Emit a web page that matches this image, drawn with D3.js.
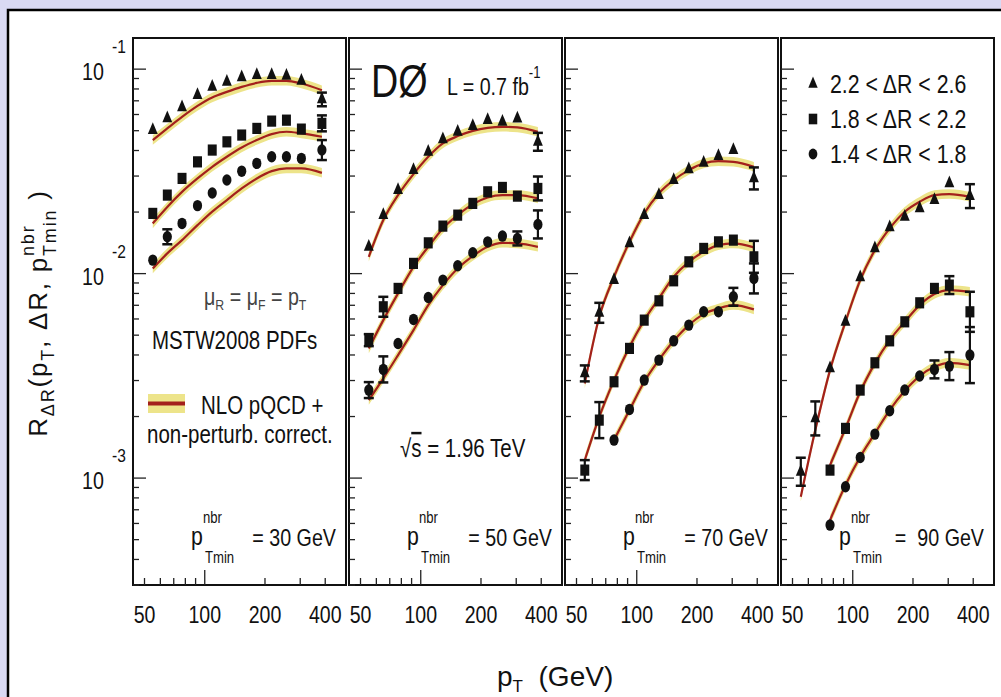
<!DOCTYPE html>
<html>
<head>
<meta charset="utf-8">
<script src="https://cdn.jsdelivr.net/npm/d3@7"></script>
<style>
  body { margin: 0; background: #d9d9f3; overflow: hidden; }
  text { font-family: "Liberation Sans", Arial, Helvetica, sans-serif; fill: #111; }
</style>
</head>
<body>
<script>
// bin centres (GeV) shared by all panels
var pT = [55, 65, 77, 92, 109, 129, 153, 182, 216, 256, 304, 385];
var ptMinLabels = ["30", "50", "70", "90"];
var xTickLabels = [50, 100, 200, 400];
var legendLabels = ["2.2 < \u0394R < 2.6", "1.8 < \u0394R < 2.2", "1.4 < \u0394R < 1.8"];

// one row per panel (pTmin = 30, 50, 70, 90 GeV)
var triData = [
  [0.0503, 0.0574, 0.0650, 0.0746, 0.0819, 0.0867, 0.0911, 0.0935, 0.0935, 0.0927, 0.0877, 0.0711],
  [0.01352, 0.01932, 0.02561, 0.03208, 0.0394, 0.04531, 0.04935, 0.05264, 0.0563, 0.05524, 0.05738, 0.04411],
  [0.003251, 0.006431, 0.009294, 0.01405, 0.01932, 0.02421, 0.02866, 0.03233, 0.03482, 0.03755, 0.04017, 0.02921],
  [0.001074, 0.001958, 0.003439, 0.005811, 0.009581, 0.01328, 0.01682, 0.01896, 0.02084, 0.02288, 0.02761, 0.02393]
];
var triTheory = [
  [0.0450, 0.0513, 0.0584, 0.0661, 0.0727, 0.0774, 0.0819, 0.0857, 0.0877, 0.0877, 0.0851, 0.0789],
  [0.01208, 0.01827, 0.02421, 0.03066, 0.03725, 0.04332, 0.04704, 0.04991, 0.05164, 0.05221, 0.05186, 0.04935],
  [0.002904, 0.006148, 0.009647, 0.0143, 0.0197, 0.02467, 0.02866, 0.03208, 0.03459, 0.03549, 0.03521, 0.0333],
  [0.00081, 0.001717, 0.003374, 0.005811, 0.009294, 0.01303, 0.01663, 0.02006, 0.02245, 0.02421, 0.02448, 0.02374]
];
var triErr = [
  [0, 0, 0, 0, 0, 0, 0, 0, 0, 0, 0, 0.08],
  [0, 0, 0, 0, 0, 0, 0, 0, 0, 0, 0, 0.106],
  [0.094, 0.119, 0, 0, 0, 0, 0, 0, 0, 0, 0, 0.132],
  [0.171, 0.211, 0, 0, 0, 0, 0, 0, 0, 0, 0, 0.144]
];

var sqData = [
  [0.0197, 0.02421, 0.02921, 0.0352, 0.0402, 0.0441, 0.0476, 0.0513, 0.0557, 0.0563, 0.0509, 0.0543],
  [0.004728, 0.006882, 0.008465, 0.01122, 0.01414, 0.01707, 0.01932, 0.02205, 0.02512, 0.02639, 0.02393, 0.02609],
  [0.001094, 0.001921, 0.002958, 0.004308, 0.005923, 0.007362, 0.009222, 0.01142, 0.01328, 0.0143, 0.01458, 0.01208],
  [null, null, 0.001094, 0.00175, 0.002694, 0.003663, 0.004691, 0.005811, 0.007198, 0.008465, 0.008786, 0.006504]
];
var sqTheory = [
  [0.0176, 0.0212, 0.0251, 0.0292, 0.0333, 0.0373, 0.0414, 0.045, 0.0481, 0.0494, 0.0485, 0.0467],
  [0.004308, 0.005923, 0.008002, 0.0108, 0.01352, 0.01663, 0.01932, 0.02187, 0.02358, 0.02421, 0.02421, 0.02332],
  [0.001225, 0.001994, 0.003015, 0.004387, 0.005923, 0.007563, 0.009647, 0.01142, 0.01278, 0.01378, 0.01405, 0.01343],
  [null, null, 0.001158, 0.00175, 0.002642, 0.003638, 0.004728, 0.005811, 0.007015, 0.00794, 0.008305, 0.008147]
];
var sqErr = [
  [0, 0, 0, 0, 0, 0, 0, 0, 0, 0, 0, 0.094],
  [0.07, 0.119, 0, 0, 0, 0, 0, 0, 0, 0, 0, 0.144],
  [0.119, 0.225, 0, 0, 0, 0, 0, 0, 0, 0, 0, 0.197],
  [0, 0, 0, 0, 0, 0, 0, 0, 0, 0, 0.106, 0.253]
];

var circData = [
  [0.01164, 0.01514, 0.0176, 0.0215, 0.0248, 0.0287, 0.0317, 0.0346, 0.0373, 0.0373, 0.0366, 0.0402],
  [0.002694, 0.0034, 0.004556, 0.00597, 0.007648, 0.009294, 0.01092, 0.01264, 0.0143, 0.01526, 0.01486, 0.0174],
  [null, null, 0.001534, 0.002167, 0.003015, 0.003776, 0.004691, 0.0056, 0.006504, 0.006504, 0.007701, 0.009473],
  [null, null, 0.000589, 0.000907, 0.001262, 0.001641, 0.002133, 0.002694, 0.003155, 0.0034, 0.003529, 0.003995]
];
var circTheory = [
  [0.0106, 0.01256, 0.01458, 0.01726, 0.0201, 0.0229, 0.0261, 0.0292, 0.0317, 0.0327, 0.0327, 0.0311],
  [0.002407, 0.003074, 0.003995, 0.005294, 0.007015, 0.008786, 0.0106, 0.01218, 0.01352, 0.01414, 0.01405, 0.01352],
  [null, null, 0.001534, 0.00215, 0.002958, 0.003776, 0.004691, 0.0056, 0.006339, 0.006758, 0.007015, 0.006683],
  [null, null, 0.000623, 0.000924, 0.001271, 0.001654, 0.00215, 0.002673, 0.003155, 0.003501, 0.003663, 0.00357]
];
var circErr = [
  [0, 0.088, 0, 0, 0, 0, 0, 0, 0, 0, 0, 0.119],
  [0.094, 0.158, 0, 0, 0, 0, 0, 0, 0, 0, 0.082, 0.171],
  [0, 0, 0, 0, 0, 0, 0, 0, 0, 0, 0.106, 0.184],
  [0, 0, 0, 0, 0, 0, 0, 0, 0, 0.106, 0.171, 0.371]
];

var bandFrac = 0.055;

var width = 1001,
    height = 697,
    panelLefts = [133, 349, 565, 781],
    panelW = 213,
    panelTop = 38,
    panelBottom = 585,
    narrow = 0.82,
    bandColor = "#ede48a",
    lineColor = "#a3201c";

var svg = d3.select("body").append("svg")
            .attr("width", width)
            .attr("height", height);

// condensed text: the original uses a narrow Helvetica
function label(parent, x, y, size, anchor, sx) {
  return parent.append("text")
    .attr("transform", "translate(" + x + "," + y + ")scale(" + (sx || narrow) + ",1)")
    .attr("font-size", size)
    .attr("text-anchor", anchor || "start");
}

// white canvas with black frame over the lavender page
svg.append("rect")
   .attr("x", 8).attr("y", 10)
   .attr("width", width).attr("height", height)
   .attr("fill", "#fff")
   .attr("stroke", "#000")
   .attr("stroke-width", 2.5);

var x = d3.scaleLog().domain([43.8, 508]).range([0, panelW]);
var y = d3.scaleLog().domain([3.0e-4, 0.142]).range([panelBottom, panelTop]);

var series = [
  { data: triData,  theory: triTheory,  err: triErr,  type: d3.symbolTriangle, size: 66, sx: 0.8, sy: 1.1 },
  { data: sqData,   theory: sqTheory,   err: sqErr,   type: d3.symbolSquare,   size: 95, sx: 0.92, sy: 1.15 },
  { data: circData, theory: circTheory, err: circErr, type: d3.symbolCircle,   size: 82, sx: 0.9, sy: 1.12 }
];

var band = d3.area()
  .x(function(d) { return x(d.pt); })
  .y0(function(d) { return y(d.v / (1 + bandFrac)); })
  .y1(function(d) { return y(d.v * (1 + bandFrac)); })
  .curve(d3.curveMonotoneX);

var line = d3.line()
  .x(function(d) { return x(d.pt); })
  .y(function(d) { return y(d.v); })
  .curve(d3.curveMonotoneX);

panelLefts.forEach(function(left, p) {
  var g = svg.append("g").attr("transform", "translate(" + left + ",0)");

  // theory bands and central lines
  series.forEach(function(s) {
    var th = pT.map(function(pt, i) { return { pt: pt, v: s.theory[p][i] }; })
               .filter(function(d) { return d.v != null; });
    g.append("path").datum(th).attr("d", band).attr("fill", bandColor);
    g.append("path").datum(th).attr("d", line)
     .attr("fill", "none").attr("stroke", lineColor).attr("stroke-width", 2.2);
  });

  // data points with error bars
  series.forEach(function(s) {
    var pts = pT.map(function(pt, i) { return { pt: pt, v: s.data[p][i], e: s.err[p][i] }; })
                .filter(function(d) { return d.v != null; });

    var eb = g.selectAll(null).data(pts.filter(function(d) { return d.e > 0; })).enter().append("g")
              .attr("stroke", "#111").attr("stroke-width", 2.2);
    eb.append("line")
      .attr("x1", function(d) { return x(d.pt); }).attr("x2", function(d) { return x(d.pt); })
      .attr("y1", function(d) { return y(d.v * (1 + d.e)); })
      .attr("y2", function(d) { return y(d.v / (1 + d.e)); });
    [1, -1].forEach(function(sgn) {
      eb.append("line")
        .attr("x1", function(d) { return x(d.pt) - 5; }).attr("x2", function(d) { return x(d.pt) + 5; })
        .attr("y1", function(d) { return y(sgn > 0 ? d.v * (1 + d.e) : d.v / (1 + d.e)); })
        .attr("y2", function(d) { return y(sgn > 0 ? d.v * (1 + d.e) : d.v / (1 + d.e)); })
        .attr("stroke-width", 2.5);
    });

    g.selectAll(null).data(pts).enter().append("path")
     .attr("d", d3.symbol().type(s.type).size(s.size))
     .attr("transform", function(d) {
       return "translate(" + x(d.pt) + "," + y(d.v) + ")scale(" + s.sx + "," + s.sy + ")";
     })
     .attr("fill", "#111");
  });

  // frame
  g.append("rect")
   .attr("x", 0).attr("y", panelTop)
   .attr("width", panelW).attr("height", panelBottom - panelTop)
   .attr("fill", "none").attr("stroke", "#111").attr("stroke-width", 2);

  // y ticks (log, left side)
  var yt = y.ticks().filter(function(v) { return v >= 3.0e-4 && v <= 0.142; });
  g.selectAll(null).data(yt).enter().append("line")
   .attr("x1", 0)
   .attr("x2", function(v) { return Math.abs(Math.log10(v) - Math.round(Math.log10(v))) < 1e-6 ? 13 : 6; })
   .attr("y1", function(v) { return y(v); }).attr("y2", function(v) { return y(v); })
   .attr("stroke", "#222").attr("stroke-width", 1.3);

  // x ticks (log, bottom)
  var xt = x.ticks().filter(function(v) { return v >= 45 && v <= 450; });
  g.selectAll(null).data(xt).enter().append("line")
   .attr("x1", function(v) { return x(v); }).attr("x2", function(v) { return x(v); })
   .attr("y1", panelBottom)
   .attr("y2", function(v) { return panelBottom - (v === 100 ? 15 : 7); })
   .attr("stroke", "#222").attr("stroke-width", 1.3);

  xTickLabels.forEach(function(v) {
    label(g, x(v), 623, 23, "middle", 0.85).text(v);
  });

  // p_Tmin^nbr label
  label(g, 58, 545, 26).text("p");
  label(g, 70, 523, 16).text("nbr");
  label(g, 72, 563, 16).text("Tmin");
  label(g, panelW - 10, 546, 24, "end")
   .attr("xml:space", "preserve")
   .text(p === 3 ? "=  " + ptMinLabels[p] + " GeV" : "= " + ptMinLabels[p] + " GeV");
});

// y axis decade labels
[1e-1, 1e-2, 1e-3].forEach(function(v) {
  var yy = y(v), ex = Math.round(Math.log10(v));
  label(svg, 104, yy + 11, 24, "end").text("10");
  label(svg, 112, yy - 16, 19).text(String(ex));
});

// y axis title
var ytl = svg.append("text")
  .attr("transform", "translate(47,313)rotate(-90)")
  .attr("text-anchor", "middle")
  .attr("font-size", 26)
  .attr("letter-spacing", 1.8);
ytl.append("tspan").text("R");
ytl.append("tspan").attr("font-size", 18).attr("dy", 7).text("\u0394R");
ytl.append("tspan").attr("dy", -7).text("(p");
ytl.append("tspan").attr("font-size", 18).attr("dy", 7).text("T");
ytl.append("tspan").attr("dy", -7).text(", \u0394R, p");
var nbr = ytl.append("tspan").attr("font-size", 18).attr("dy", -13).text("nbr");
var nbrLen = nbr.node().getComputedTextLength();
ytl.append("tspan").attr("font-size", 18).attr("dx", -nbrLen).attr("dy", 22).text("Tmin");
ytl.append("tspan").attr("dy", -9).text(" )");

// x axis title
var xtl = label(svg, 497, 686, 28, "start", 1);
xtl.append("tspan").text("p");
xtl.append("tspan").attr("font-size", 17).attr("dy", 6).text("T");
xtl.append("tspan").attr("dy", -6).attr("xml:space", "preserve").text("  (GeV)");

// panel 1 annotations
var p1 = panelLefts[0];
var mu = label(svg, p1 + 71, 305, 24).style("fill", "#444");
mu.append("tspan").text("\u03bc");
mu.append("tspan").attr("font-size", 15).attr("dy", 5).text("R");
mu.append("tspan").attr("dy", -5).text(" = \u03bc");
mu.append("tspan").attr("font-size", 15).attr("dy", 5).text("F");
mu.append("tspan").attr("dy", -5).text(" = p");
mu.append("tspan").attr("font-size", 15).attr("dy", 5).text("T");
label(svg, p1 + 19, 349, 25).text("MSTW2008 PDFs");
svg.append("rect").attr("x", p1 + 15).attr("y", 394).attr("width", 37).attr("height", 19).attr("fill", bandColor);
svg.append("line").attr("x1", p1 + 15).attr("x2", p1 + 52).attr("y1", 403.5).attr("y2", 403.5)
   .attr("stroke", lineColor).attr("stroke-width", 4);
label(svg, p1 + 68, 414, 25).text("NLO pQCD +");
label(svg, p1 + 14, 443, 25).text("non-perturb. correct.");

// panel 2 annotations
var p2 = panelLefts[1];
label(svg, p2 + 22, 97, 46).text("D\u00d8");
var lum = label(svg, p2 + 98, 95, 24);
lum.append("tspan").text("L = 0.7 fb");
lum.append("tspan").attr("font-size", 16).attr("dy", -17).text("-1");
var rs = label(svg, p2 + 51, 457, 25);
rs.append("tspan").text("\u221a");
rs.append("tspan").style("text-decoration", "overline").text("s");
rs.append("tspan").text(" = 1.96 TeV");

// panel 4 legend
var p4 = panelLefts[3];
series.forEach(function(s, i) {
  svg.append("path")
     .attr("d", d3.symbol().type(s.type).size(s.size * 0.9))
     .attr("transform", "translate(" + (p4 + 32) + "," + (84 + i * 35) + ")scale(" + s.sx + "," + s.sy + ")")
     .attr("fill", "#111");
  label(svg, p4 + 49, 93 + i * 35, 26).text(legendLabels[i]);
});
</script>
</body>
</html>
